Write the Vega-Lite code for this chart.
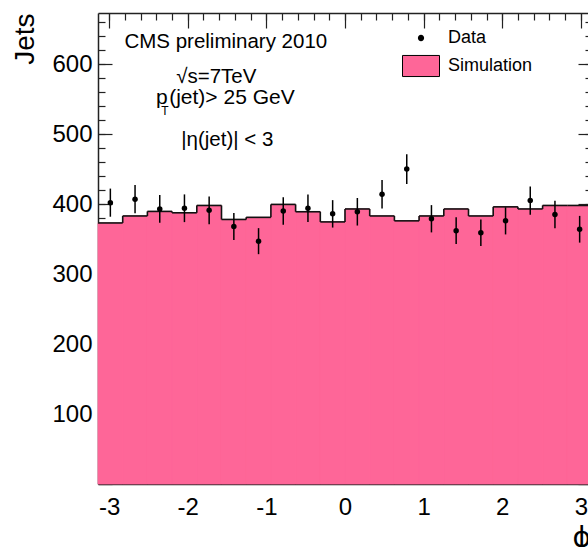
{
  "$schema": "https://vega.github.io/schema/vega-lite/v6.json",
  "width": 490,
  "height": 471,
  "autosize": "none",
  "padding": {"left": 98, "top": 13, "right": 0, "bottom": 63},
  "background": "white",
  "config": {
    "view": {"stroke": null},
    "axis": {"labelFont": "Liberation Sans", "titleFont": "Liberation Sans", "labelColor": "#000", "titleColor": "#000", "tickColor": "#222", "domainColor": "#222", "domainWidth": 1.5, "tickWidth": 1.2, "grid": false, "titleFontWeight": "normal"},
    "text": {"font": "Liberation Sans", "color": "#000"}
  },
  "datasets": {
    "sim": [
      {"lo": -3.14159, "hi": -2.82743, "mc": 373, "next": 383},
      {"lo": -2.82743, "hi": -2.51327, "mc": 383, "next": 389.5},
      {"lo": -2.51327, "hi": -2.19911, "mc": 389.5, "next": 387.5},
      {"lo": -2.19911, "hi": -1.88496, "mc": 387.5, "next": 398},
      {"lo": -1.88496, "hi": -1.5708, "mc": 398, "next": 378},
      {"lo": -1.5708, "hi": -1.25664, "mc": 378, "next": 381},
      {"lo": -1.25664, "hi": -0.94248, "mc": 381, "next": 399.5},
      {"lo": -0.94248, "hi": -0.62832, "mc": 399.5, "next": 389},
      {"lo": -0.62832, "hi": -0.31416, "mc": 389, "next": 374.5},
      {"lo": -0.31416, "hi": 0, "mc": 374.5, "next": 393},
      {"lo": 0, "hi": 0.31416, "mc": 393, "next": 383},
      {"lo": 0.31416, "hi": 0.62832, "mc": 383, "next": 376},
      {"lo": 0.62832, "hi": 0.94248, "mc": 376, "next": 383},
      {"lo": 0.94248, "hi": 1.25664, "mc": 383, "next": 393},
      {"lo": 1.25664, "hi": 1.5708, "mc": 393, "next": 383},
      {"lo": 1.5708, "hi": 1.88496, "mc": 383, "next": 396},
      {"lo": 1.88496, "hi": 2.19911, "mc": 396, "next": 393},
      {"lo": 2.19911, "hi": 2.51327, "mc": 393, "next": 398},
      {"lo": 2.51327, "hi": 2.82743, "mc": 398, "next": 398},
      {"lo": 2.82743, "hi": 3.14159, "mc": 398, "next": null}
    ],
    "obs": [
      {"phi": -2.98451, "n": 402, "lo": 381.9, "hi": 422.1},
      {"phi": -2.67035, "n": 407, "lo": 386.8, "hi": 427.2},
      {"phi": -2.35619, "n": 393, "lo": 373.2, "hi": 412.8},
      {"phi": -2.04204, "n": 394, "lo": 374.2, "hi": 413.8},
      {"phi": -1.72788, "n": 391, "lo": 371.2, "hi": 410.8},
      {"phi": -1.41372, "n": 368, "lo": 348.8, "hi": 387.2},
      {"phi": -1.09956, "n": 347, "lo": 328.4, "hi": 365.6},
      {"phi": -0.7854, "n": 390, "lo": 370.3, "hi": 409.7},
      {"phi": -0.47124, "n": 394, "lo": 374.2, "hi": 413.8},
      {"phi": -0.15708, "n": 386, "lo": 366.4, "hi": 405.6},
      {"phi": 0.15708, "n": 389, "lo": 369.3, "hi": 408.7},
      {"phi": 0.47124, "n": 414, "lo": 393.7, "hi": 434.3},
      {"phi": 0.7854, "n": 450, "lo": 428.8, "hi": 471.2},
      {"phi": 1.09956, "n": 379, "lo": 359.5, "hi": 398.5},
      {"phi": 1.41372, "n": 362, "lo": 343.0, "hi": 381.0},
      {"phi": 1.72788, "n": 359, "lo": 340.1, "hi": 377.9},
      {"phi": 2.04204, "n": 376, "lo": 356.6, "hi": 395.4},
      {"phi": 2.35619, "n": 405, "lo": 384.9, "hi": 425.1},
      {"phi": 2.67035, "n": 385, "lo": 365.4, "hi": 404.6},
      {"phi": 2.98451, "n": 364, "lo": 344.9, "hi": 383.1}
    ],
    "notes": [
      {"x": -1.516, "y": 622.9, "t": "CMS preliminary 2010"},
      {"x": -1.637, "y": 572.4, "t": "√s=7TeV"},
      {"x": -1.497, "y": 482.9, "t": "|η(jet)| < 3"}
    ],
    "ptline": [
      {"x": -2.405, "y": 542.9, "t": "p"},
      {"x": -2.236, "y": 542.9, "t": "(jet)> 25 GeV"}
    ],
    "subs": [
      {"x": -2.338, "y": 527, "t": "T"}
    ]
  },
  "layer": [
    {
      "data": {"name": "sim"},
      "mark": {"type": "rect"},
      "encoding": {
        "x": {"field": "lo", "type": "quantitative", "scale": {"domain": [-3.14159, 3.14159], "range": [0, 494], "nice": false, "zero": false},
              "axis": {"orient": "bottom", "values": [-3, -2, -1, 0, 1, 2, 3], "tickSize": -15, "labelPadding": 26, "labelFontSize": 24,
                       "labelExpr": "replace(format(datum.value, 'd'), '−', '-')",
                       "title": "ϕ", "titleFont": "DejaVu Sans", "titleFontSize": 28, "titleX": 474, "titleY": 54, "titleAlign": "left", "titleBaseline": "middle", "titleAnchor": null}},
        "x2": {"field": "hi"},
        "y": {"field": "mc", "type": "quantitative", "scale": {"domain": [0, 673], "nice": false, "zero": false},
              "axis": {"orient": "left", "values": [0, 100, 200, 300, 400, 500, 600], "tickSize": -14, "labelPadding": 20, "labelFontSize": 24,
                       "labelExpr": "datum.value === 0 ? '' : datum.label",
                       "title": "Jets", "titleFontSize": 28, "titleX": -73, "titleY": 0, "titleAlign": "right", "titleBaseline": "middle", "titleAngle": 270}},
        "y2": {"datum": 0},
        "fill": {"datum": "Simulation", "type": "nominal", "scale": {"domain": ["Data", "Simulation"], "range": ["#000000", "#fe6698"]},
                 "legend": {"orient": "none", "legendX": 304, "legendY": 6, "title": null, "labelFont": "Liberation Sans", "labelFontSize": 18, "labelColor": "#000",
                            "symbolSize": 1369, "labelOffset": 8, "rowPadding": -8, "symbolStrokeWidth": 1,
                            "encode": {"symbols": {"update": {
                              "shape": {"signal": "datum.value === 'Data' ? 'M0.17,0A0.17,0.17,0,1,1,-0.17,0A0.17,0.17,0,1,1,0.17,0Z' : 'M-1,-0.57L1,-0.57L1,0.57L-1,0.57Z'"},
                              "stroke": {"signal": "datum.value === 'Data' ? null : '#000'"},
                              "opacity": {"value": 1}, "fillOpacity": {"value": 1}}}}}}
      }
    },
    {
      "data": {"name": "sim"},
      "mark": {"type": "rect", "fill": "#fe6698", "stroke": "#fe6698", "strokeWidth": 0.8},
      "encoding": {
        "x": {"field": "lo", "type": "quantitative", "scale": {"domain": [-3.14159, 3.14159], "range": [0, 494], "nice": false, "zero": false}, "axis": null},
        "x2": {"field": "hi"},
        "y": {"field": "mc", "type": "quantitative", "scale": {"domain": [0, 673], "nice": false, "zero": false}, "axis": null},
        "y2": {"datum": 0}
      }
    },
    {
      "data": {"name": "sim"},
      "mark": {"type": "rule", "color": "#111", "strokeWidth": 1.6},
      "encoding": {
        "x": {"field": "lo", "type": "quantitative", "scale": {"domain": [-3.14159, 3.14159], "range": [0, 494], "nice": false, "zero": false},
              "axis": {"orient": "bottom", "values": [-3, -2.8, -2.6, -2.4, -2.2, -2, -1.8, -1.6, -1.4, -1.2, -1, -0.8, -0.6, -0.4, -0.2, 0, 0.2, 0.4, 0.6, 0.8, 1, 1.2, 1.4, 1.6, 1.8, 2, 2.2, 2.4, 2.6, 2.8, 3], "tickSize": -7, "labels": false, "domain": false, "title": null}},
        "x2": {"field": "hi"},
        "y": {"field": "mc", "type": "quantitative", "scale": {"domain": [0, 673], "nice": false, "zero": false},
              "axis": {"orient": "left", "values": [20, 40, 60, 80, 100, 120, 140, 160, 180, 200, 220, 240, 260, 280, 300, 320, 340, 360, 380, 400, 420, 440, 460, 480, 500, 520, 540, 560, 580, 600, 620, 640, 660], "tickSize": -7, "labels": false, "domain": false, "title": null}}
      }
    },
    {
      "data": {"name": "sim"},
      "transform": [{"filter": "isValid(datum.next)"}],
      "mark": {"type": "rule", "color": "#111", "strokeWidth": 1.6},
      "encoding": {
        "x": {"field": "hi", "type": "quantitative", "scale": {"domain": [-3.14159, 3.14159], "range": [0, 494], "nice": false, "zero": false},
              "axis": {"orient": "top", "values": [-3, -2, -1, 0, 1, 2, 3], "tickSize": -15, "labels": false, "domain": true, "title": null}},
        "y": {"field": "mc", "type": "quantitative", "scale": {"domain": [0, 673], "nice": false, "zero": false},
              "axis": {"orient": "right", "offset": 4, "values": [0, 100, 200, 300, 400, 500, 600], "tickSize": -14, "labels": false, "domain": false, "title": null}},
        "y2": {"field": "next"}
      }
    },
    {
      "data": {"name": "obs"},
      "mark": {"type": "rule", "color": "#000", "strokeWidth": 1.5},
      "encoding": {
        "x": {"field": "phi", "type": "quantitative", "scale": {"domain": [-3.14159, 3.14159], "range": [0, 494], "nice": false, "zero": false},
              "axis": {"orient": "top", "values": [-3, -2.8, -2.6, -2.4, -2.2, -2, -1.8, -1.6, -1.4, -1.2, -1, -0.8, -0.6, -0.4, -0.2, 0, 0.2, 0.4, 0.6, 0.8, 1, 1.2, 1.4, 1.6, 1.8, 2, 2.2, 2.4, 2.6, 2.8, 3], "tickSize": -7, "labels": false, "domain": false, "title": null}},
        "y": {"field": "lo", "type": "quantitative", "scale": {"domain": [0, 673], "nice": false, "zero": false},
              "axis": {"orient": "right", "offset": 4, "values": [20, 40, 60, 80, 100, 120, 140, 160, 180, 200, 220, 240, 260, 280, 300, 320, 340, 360, 380, 400, 420, 440, 460, 480, 500, 520, 540, 560, 580, 600, 620, 640, 660], "tickSize": -7, "labels": false, "domain": false, "title": null}},
        "y2": {"field": "hi"}
      }
    },
    {
      "data": {"name": "obs"},
      "mark": {"type": "point", "filled": true, "size": 30, "opacity": 1, "shape": "circle"},
      "encoding": {
        "x": {"field": "phi", "type": "quantitative", "scale": {"domain": [-3.14159, 3.14159], "range": [0, 494], "nice": false, "zero": false}, "axis": null},
        "y": {"field": "n", "type": "quantitative", "scale": {"domain": [0, 673], "nice": false, "zero": false}, "axis": null},
        "fill": {"datum": "Data", "type": "nominal"}
      }
    },
    {
      "data": {"name": "notes"},
      "mark": {"type": "text", "align": "center", "baseline": "alphabetic", "fontSize": 20.5},
      "encoding": {
        "x": {"field": "x", "type": "quantitative", "scale": {"domain": [-3.14159, 3.14159], "range": [0, 494], "nice": false, "zero": false}, "axis": null},
        "y": {"field": "y", "type": "quantitative", "scale": {"domain": [0, 673], "nice": false, "zero": false}, "axis": null},
        "text": {"field": "t"}
      }
    },
    {
      "data": {"name": "ptline"},
      "mark": {"type": "text", "align": "left", "baseline": "alphabetic", "fontSize": 21},
      "encoding": {
        "x": {"field": "x", "type": "quantitative", "scale": {"domain": [-3.14159, 3.14159], "range": [0, 494], "nice": false, "zero": false}, "axis": null},
        "y": {"field": "y", "type": "quantitative", "scale": {"domain": [0, 673], "nice": false, "zero": false}, "axis": null},
        "text": {"field": "t"}
      }
    },
    {
      "data": {"name": "subs"},
      "mark": {"type": "text", "align": "left", "baseline": "alphabetic", "fontSize": 12},
      "encoding": {
        "x": {"field": "x", "type": "quantitative", "scale": {"domain": [-3.14159, 3.14159], "range": [0, 494], "nice": false, "zero": false}, "axis": null},
        "y": {"field": "y", "type": "quantitative", "scale": {"domain": [0, 673], "nice": false, "zero": false}, "axis": null},
        "text": {"field": "t"}
      }
    }
  ],
  "resolve": {"axis": {"x": "independent", "y": "independent"}}
}
